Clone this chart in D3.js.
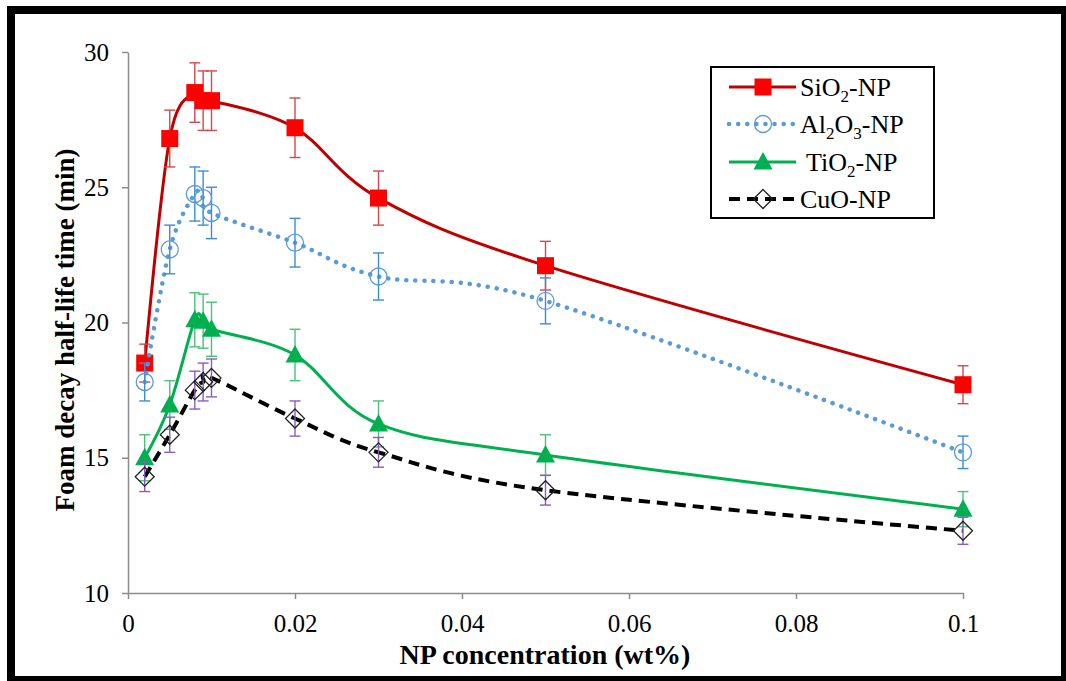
<!DOCTYPE html>
<html>
<head>
  <meta charset="utf-8">
  <title>Foam decay half-life time</title>
  <script src="https://cdn.jsdelivr.net/npm/d3@7"></script>
</head>
<style>
  html, body { margin: 0; padding: 0; background: #fff; overflow: hidden }
  svg { display: block; font-family: "Liberation Serif", "Times New Roman", serif; }
</style>
<body>
  <div id="chart"></div>
</body>
<script>
  // data
  const conc = [0.002, 0.005, 0.008, 0.009, 0.01, 0.02, 0.03, 0.05, 0.1]
  const sio2 = [18.5, 26.8, 28.5, 28.2, 28.2, 27.2, 24.6, 22.1, 17.7]
  const sio2Err = [0.7, 1.05, 1.1, 1.1, 1.1, 1.1, 1.0, 0.9, 0.7]
  const al2o3 = [17.8, 22.7, 24.75, 24.6, 24.05, 22.95, 21.7, 20.8, 15.2]
  const al2o3Err = [0.7, 0.9, 1.0, 1.0, 0.95, 0.9, 0.87, 0.85, 0.6]
  const tio2 = [15.0, 16.95, 20.1, 20.05, 19.75, 18.8, 16.25, 15.1, 13.1]
  const tio2Err = [0.85, 0.9, 1.0, 1.0, 1.0, 0.95, 0.85, 0.75, 0.65]
  const cuo = [14.3, 15.85, 17.5, 17.8, 17.95, 16.45, 15.2, 13.8, 12.3]
  const cuoErr = [0.55, 0.65, 0.7, 0.7, 0.7, 0.65, 0.55, 0.55, 0.5]
  const xTicks = [0, 0.02, 0.04, 0.06, 0.08, 0.1]
  const yTicks = [10, 15, 20, 25, 30]

  const series = [
    { name: ['SiO', '2', '-NP'], y: sio2, err: sio2Err, line: '#c00000', errColor: '#d0494c', marker: 'square', width: 3, dash: null },
    { name: ['Al', '2', 'O', '3', '-NP'], y: al2o3, err: al2o3Err, line: '#5b9bd5', errColor: '#3f8bd2', marker: 'circle', width: 4.5, dash: '0.1 9' },
    { name: ['TiO', '2', '-NP'], y: tio2, err: tio2Err, line: '#00b050', errColor: '#4cc07a', marker: 'triangle', width: 3, dash: null },
    { name: ['CuO-NP'], y: cuo, err: cuoErr, line: '#000000', errColor: '#8a5cc0', marker: 'diamond', width: 4, dash: '11 7' }
  ]

  const W = 1066, H = 681
  const svg = d3.select('#chart').append('svg')
    .attr('width', W).attr('height', H)

  // thick frame
  svg.append('rect')
    .attr('x', 11).attr('y', 10).attr('width', 1054).attr('height', 670)
    .attr('fill', 'none').attr('stroke', '#000').attr('stroke-width', 8)

  const x = d3.scaleLinear().domain([0, 0.1]).range([128, 963])
  const y = d3.scaleLinear().domain([10, 30]).range([593, 52])

  const axisColor = '#8c8c8c'

  const xAxis = svg.append('g')
    .attr('transform', 'translate(0,' + y(10) + ')')
    .call(d3.axisBottom(x).tickValues(xTicks).tickSize(6).tickSizeOuter(0)
      .tickFormat(d => d === 0 ? '0' : d3.format('~g')(d)))
  xAxis.select('.domain').attr('stroke', axisColor).attr('stroke-width', 1.5)
  xAxis.selectAll('.tick line').attr('stroke', axisColor).attr('stroke-width', 1.5)
  xAxis.selectAll('.tick text')
    .attr('fill', '#000').attr('font-size', 25).attr('font-family', 'Liberation Serif')
    .attr('dy', null).attr('y', 39)

  const yAxis = svg.append('g')
    .attr('transform', 'translate(' + x(0) + ',0)')
    .call(d3.axisLeft(y).tickValues(yTicks).tickSize(6).tickSizeOuter(0))
  yAxis.select('.domain').attr('stroke', axisColor).attr('stroke-width', 1.5)
  yAxis.selectAll('.tick line').attr('stroke', axisColor).attr('stroke-width', 1.5)
  yAxis.selectAll('.tick text')
    .attr('fill', '#000').attr('font-size', 25).attr('font-family', 'Liberation Serif')
    .attr('x', -19)

  svg.append('text')
    .attr('x', 545).attr('y', 664)
    .attr('text-anchor', 'middle')
    .attr('font-weight', 'bold').attr('font-size', 28)
    .text('NP concentration (wt%)')

  svg.append('text')
    .attr('transform', 'translate(74,' + 330 + ') rotate(-90)')
    .attr('text-anchor', 'middle')
    .attr('font-weight', 'bold').attr('font-size', 27)
    .text('Foam decay half-life time (min)')

  const line = d3.line()
    .x(d => x(d[0])).y(d => y(d[1]))
    .curve(d3.curveCatmullRom.alpha(0))

  const drawMarker = (g, type) => {
    if (type === 'square') {
      g.append('rect').attr('x', -8.5).attr('y', -8.5).attr('width', 17).attr('height', 17)
        .attr('fill', '#ff0000')
    } else if (type === 'circle') {
      g.append('circle').attr('r', 8.5).attr('fill', 'none')
        .attr('stroke', '#5b9bd5').attr('stroke-width', 1.3)
    } else if (type === 'triangle') {
      g.append('path').attr('d', 'M0,-10L9.5,7.5L-9.5,7.5Z').attr('fill', '#00b050')
    } else {
      g.append('path').attr('d', 'M0,-9.5L9.5,0L0,9.5L-9.5,0Z').attr('fill', 'none')
        .attr('stroke', '#222').attr('stroke-width', 1.3)
    }
  }

  series.forEach(s => {
    const pts = conc.map((c, i) => [c, s.y[i], s.err[i]])
    const g = svg.append('g')

    g.append('path')
      .datum(pts)
      .attr('d', line)
      .attr('fill', 'none')
      .attr('stroke', s.line)
      .attr('stroke-width', s.width)
      .attr('stroke-linecap', s.dash && s.dash.startsWith('0.1') ? 'round' : 'butt')
      .attr('stroke-dasharray', s.dash)

    const eb = g.selectAll('.eb').data(pts).enter().append('g')
      .attr('stroke', s.errColor).attr('stroke-width', 1.4)
    eb.append('line')
      .attr('x1', d => x(d[0])).attr('x2', d => x(d[0]))
      .attr('y1', d => y(d[1] - d[2])).attr('y2', d => y(d[1] + d[2]))
    eb.append('line')
      .attr('x1', d => x(d[0]) - 5.5).attr('x2', d => x(d[0]) + 5.5)
      .attr('y1', d => y(d[1] + d[2])).attr('y2', d => y(d[1] + d[2]))
    eb.append('line')
      .attr('x1', d => x(d[0]) - 5.5).attr('x2', d => x(d[0]) + 5.5)
      .attr('y1', d => y(d[1] - d[2])).attr('y2', d => y(d[1] - d[2]))

    g.selectAll('.mk').data(pts).enter().append('g')
      .attr('transform', d => 'translate(' + x(d[0]) + ',' + y(d[1]) + ')')
      .each(function () { drawMarker(d3.select(this), s.marker) })
  })

  // legend
  const legend = svg.append('g')
  legend.append('rect')
    .attr('x', 711).attr('y', 67).attr('width', 223).attr('height', 151)
    .attr('fill', '#fff').attr('stroke', '#000').attr('stroke-width', 2)

  const rowY = [87, 124, 162, 199]
  const textX = [800, 800, 806, 800]
  series.forEach((s, i) => {
    const r = legend.append('g').attr('transform', 'translate(0,' + rowY[i] + ')')
    r.append('line').attr('x1', 729).attr('x2', 796).attr('y1', 0).attr('y2', 0)
      .attr('stroke', s.line).attr('stroke-width', s.width)
      .attr('stroke-linecap', s.dash && s.dash.startsWith('0.1') ? 'round' : 'butt')
      .attr('stroke-dasharray', s.dash)
    const m = r.append('g').attr('transform', 'translate(763,0)')
    drawMarker(m, s.marker)
    const t = r.append('text').attr('x', textX[i]).attr('y', 9).attr('font-size', 26)
    s.name.forEach((part, k) => {
      const sub = /^\d$/.test(part)
      t.append('tspan')
        .attr('font-size', sub ? 17 : 26)
        .attr('dy', sub ? 6 : (k > 0 ? -6 : 0))
        .text(part)
    })
  })
</script>
</html>
